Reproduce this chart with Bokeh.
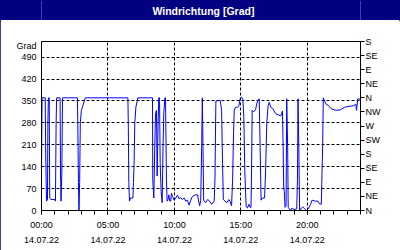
from bokeh.plotting import figure
from bokeh.layouts import column
from bokeh.models import Range1d, LinearAxis, FixedTicker, Grid
from bokeh.core.properties import value
from bokeh.embed import file_html
from bokeh.resources import INLINE

# ---- data (hours since 00:00 on 14.07.22, wind direction in degrees) ----
hours = [
    0.00, 0.04, 0.28, 0.31, 0.35, 0.38, 0.45, 0.48, 0.52, 0.58, 0.62, 0.70, 1.00, 1.05, 1.10, 1.14,
    1.40, 1.43, 1.47, 1.53, 1.58,
    2.70, 2.73, 2.78, 2.82, 2.87, 2.92, 3.00, 3.15, 3.30,
    6.50, 6.53, 6.57, 6.62, 6.70, 6.88, 6.92, 6.97, 7.02, 7.10, 7.25,
    8.35, 8.37, 8.45, 8.52, 8.58, 8.65, 8.70, 8.76, 8.82, 8.88, 8.93, 9.00, 9.08, 9.14, 9.20,
    9.28, 9.33, 9.40, 9.45, 9.52, 9.58, 9.65, 9.72, 9.78,
    9.85, 9.98, 10.10, 10.23, 10.35, 10.48, 10.60, 10.73, 10.85, 10.98, 11.10, 11.23, 11.35,
    11.48, 11.60, 11.74, 11.82, 11.90, 11.98, 12.05, 12.10, 12.15, 12.20, 12.35, 12.50, 12.65,
    12.80, 12.99, 13.05, 13.12, 13.45, 13.55, 13.62, 13.68, 13.80, 13.95, 14.10, 14.20, 14.30,
    14.38, 14.45, 14.50, 14.60, 14.75, 14.85, 14.95, 15.05, 15.15, 15.22, 15.30, 15.40, 15.50,
    15.60, 15.70, 15.76, 15.80, 15.85, 15.95, 16.10, 16.25, 16.38, 16.45, 16.52, 16.62, 16.78,
    16.85, 16.95, 17.05, 17.13, 17.25, 17.40, 17.63, 17.85, 18.00, 18.13, 18.18, 18.22, 18.27,
    18.32, 18.40, 18.45, 18.52, 18.56, 18.65, 18.75, 18.85, 19.00, 19.20, 19.26, 19.30, 19.36,
    19.42, 19.55, 19.65, 19.80, 19.95, 20.10, 20.25, 20.35, 20.60, 20.80, 20.90, 21.05, 21.15,
    21.20, 21.40, 21.60, 21.80, 22.00, 22.20, 22.50, 22.80, 23.20, 23.50, 23.65, 23.70, 23.80, 24.00,
]
direction = [
    120, 360, 360, 200, 100, 30, 35, 280, 360, 360, 40, 35, 35, 30, 280, 360,
    360, 120, 30, 120, 360,
    360, 280, 90, 0, 90, 280, 320, 340, 360,
    360, 280, 90, 30, 40, 40, 90, 160, 280, 330, 360,
    360, 100, 40, 200, 310, 320, 110, 250, 360, 360, 150, 60, 25, 200, 310,
    360, 360, 100, 30, 35, 50, 30, 30, 55,
    45, 33, 40, 49, 38, 41, 35, 40, 30, 33, 17, 33, 45,
    48, 50, 50, 30, 15, 33, 200, 360, 200, 33, 25, 35, 30,
    20, 30, 100, 350, 352, 320, 150, 35, 30, 25, 35, 28, 15,
    100, 250, 320, 330, 330, 335, 358, 362, 355, 300, 120, 12, 8,
    20, 10, 10, 110, 320, 315, 322, 350, 357, 200, 33, 40, 40,
    110, 280, 335, 345, 330, 325, 309, 305, 302, 318, 200, 75, 60,
    10, 15, 357, 200, 10, 5, 0, 8, 3, 5, 100, 357, 200,
    0, 8, 12, 5, 0, 8, 20, 33, 30, 30, 22, 20, 200,
    360, 340, 335, 325, 322, 320, 322, 330, 333, 335, 340, 320, 357, 355,
]

time_ticks = [0, 5, 10, 15, 20]
time_labels = ["00:00", "05:00", "10:00", "15:00", "20:00"]
date_labels = ["14.07.22"] * 5
deg_ticks = [0, 70, 140, 210, 280, 350, 420, 490]
compass_ticks = [0, 45, 90, 135, 180, 225, 270, 315, 360, 405, 450, 495, 540]
compass_labels = ["N", "NE", "E", "SE", "S", "SW", "W", "NW", "N", "NE", "E", "SE", "S"]
title_text = "Windrichtung [Grad]"
unit_text = "Grad"

NAVY = "#000080"
FONT = "Liberation Sans"
FS = "9px"

# ---- title bar ----
t = figure(width=400, height=20, x_range=Range1d(0, 400), y_range=Range1d(0, 20),
           x_axis_type=None, y_axis_type=None, output_backend="svg", toolbar_location=None,
           min_border=0)
t.background_fill_color = NAVY
t.border_fill_color = NAVY
t.outline_line_color = None
t.text(x=[203], y=[10], text=[title_text], text_align="center", text_baseline="middle",
       text_color="white", text_font=value(FONT), text_font_size="10.5px", text_font_style="bold")

# ---- main chart ----
p = figure(width=400, height=230, x_range=Range1d(0, 24), y_range=Range1d(0, 540),
           x_axis_type=None, y_axis_type=None, output_backend="svg", toolbar_location=None,
           min_border_left=41, min_border_right=40, min_border_top=21, min_border_bottom=40)
p.background_fill_color = "white"
p.border_fill_color = "white"
p.outline_line_color = "black"
p.outline_line_width = 1

xg = Grid(dimension=0, ticker=FixedTicker(ticks=[5, 10, 15, 20]),
          grid_line_color="black", grid_line_dash="3 2", grid_line_width=1)
yg = Grid(dimension=1, ticker=FixedTicker(ticks=deg_ticks[1:]),
          grid_line_color="black", grid_line_dash="3 2", grid_line_width=1)
p.add_layout(xg)
p.add_layout(yg)

def style(ax):
    ax.major_label_text_font = FONT
    ax.major_label_text_font_size = FS
    ax.major_label_text_color = "black"
    ax.axis_line_color = "black"
    ax.major_tick_line_color = "black"
    ax.minor_tick_line_color = "black"

bx = LinearAxis(ticker=FixedTicker(ticks=time_ticks, minor_ticks=list(range(25))),
                major_label_overrides={t_: l for t_, l in zip(time_ticks, time_labels)})
style(bx)
bx.major_tick_in = 0
bx.major_tick_out = 4
bx.minor_tick_in = 0
bx.minor_tick_out = 4
bx.major_label_standoff = 5
p.add_layout(bx, "below")

bx2 = LinearAxis(ticker=FixedTicker(ticks=time_ticks),
                 major_label_overrides={t_: l for t_, l in zip(time_ticks, date_labels)})
style(bx2)
bx2.axis_line_color = None
bx2.major_tick_line_color = None
bx2.minor_tick_line_color = None
bx2.major_tick_in = 0
bx2.major_tick_out = 0
bx2.major_label_standoff = 4
p.add_layout(bx2, "below")

ly = LinearAxis(ticker=FixedTicker(ticks=deg_ticks + [527]),
                major_label_overrides={527: unit_text})
style(ly)
ly.major_tick_in = 0
ly.major_tick_out = 0
ly.minor_tick_line_color = None
ly.major_label_standoff = 5
p.add_layout(ly, "left")

ry = LinearAxis(ticker=FixedTicker(ticks=compass_ticks),
                major_label_overrides={t_: l for t_, l in zip(compass_ticks, compass_labels)})
style(ry)
ry.major_tick_in = 0
ry.major_tick_out = 4
ry.minor_tick_line_color = None
ry.major_label_standoff = 1
p.add_layout(ry, "right")

p.line(hours, direction, line_color="#0000ff", line_width=1)

layout = column(t, p, spacing=0,
                styles={"outline": "1px solid " + NAVY, "outline-offset": "-1px"})

open("out.html", "w").write(file_html(layout, INLINE))
